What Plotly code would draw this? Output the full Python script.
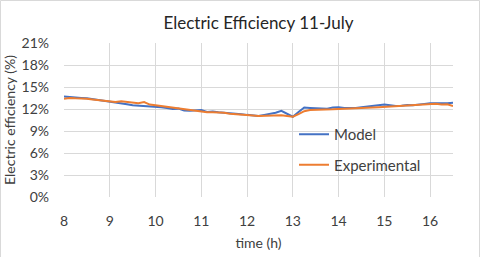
import plotly.graph_objects as go

time_h = [8 + 0.125 * i for i in range(69)]

model = [13.7, 13.6, 13.55, 13.5, 13.45, 13.35, 13.25, 13.1, 12.95, 12.85,
         12.8, 12.65, 12.5, 12.45, 12.5, 12.4, 12.35, 12.25, 12.15, 12.0,
         12.05, 11.8, 11.75, 11.8, 11.85, 11.6, 11.65, 11.55, 11.5, 11.4,
         11.45, 11.3, 11.2, 11.1, 11.05, 11.2, 11.3, 11.5, 11.75, 11.3,
         10.95, 11.6, 12.2, 12.15, 12.1, 12.0, 12.05, 12.2, 12.25, 12.15,
         12.1, 12.15, 12.25, 12.35, 12.45, 12.5, 12.6, 12.5, 12.4, 12.45,
         12.55, 12.5, 12.55, 12.7, 12.8, 12.75, 12.8, 12.8, 12.85]

experimental = [13.4, 13.5, 13.45, 13.45, 13.4, 13.3, 13.2, 13.1, 13.0, 12.95,
                13.05, 12.95, 12.8, 12.8, 12.95, 12.6, 12.5, 12.4, 12.3, 12.2,
                12.1, 11.95, 11.85, 11.8, 11.7, 11.55, 11.55, 11.55, 11.5, 11.35,
                11.3, 11.3, 11.2, 11.1, 11.05, 11.1, 11.15, 11.2, 11.15, 11.05,
                10.95, 11.3, 11.7, 11.85, 11.85, 11.85, 11.9, 11.95, 12.0, 12.05,
                12.05, 12.1, 12.1, 12.15, 12.2, 12.25, 12.3, 12.3, 12.3, 12.35,
                12.45, 12.5, 12.55, 12.65, 12.7, 12.7, 12.6, 12.65, 12.4]

x_ticks = list(range(8, 17))
y_ticks = [0, 0.03, 0.06, 0.09, 0.12, 0.15, 0.18, 0.21]

FONT = "Lato"
TXT = "#404040"
W, H = 480, 257
ml, mr, mt, mb = 64, 27, 43, 60
pw, ph = W - ml - mr, H - mt - mb

fig = go.Figure()
fig.add_trace(go.Scatter(x=time_h, y=[v / 100 for v in model], mode="lines",
                         name="Model", legendgroup="a",
                         line=dict(color="#4472C4", width=2)))
fig.add_trace(go.Scatter(x=time_h, y=[v / 100 for v in experimental], mode="lines",
                         name="Experimental", legendgroup="b",
                         line=dict(color="#ED7D31", width=2)))

fig.update_layout(
    width=W, height=H,
    margin=dict(l=ml, r=mr, t=mt, b=mb, autoexpand=False),
    paper_bgcolor="white", plot_bgcolor="white",
    font=dict(family=FONT, size=14, color=TXT),
    title=dict(text="Electric Efficiency 11-July", x=0.5, xanchor="center",
               xref="paper", y=1 - 23 / H, yanchor="middle",
               font=dict(family=FONT, size=17, color="#262626")),
    legend=dict(x=(294 - ml) / pw, y=(mt + ph - 118) / ph, xanchor="left", yanchor="top",
                traceorder="grouped", tracegroupgap=8, bgcolor="rgba(0,0,0,0)",
                font=dict(family=FONT, size=15, color=TXT)),
    xaxis=dict(range=[8, 16.5], tickvals=x_ticks, ticktext=[str(t) for t in x_ticks],
               showgrid=True, gridcolor="#D9D9D9", gridwidth=1,
               zeroline=False, showline=False, ticks="", automargin=False,
               ticklabelstandoff=14,
               title=dict(text="time (h)", font=dict(family=FONT, size=14, color=TXT),
                          standoff=10),
               tickfont=dict(family=FONT, size=14, color=TXT)),
    yaxis=dict(range=[0, 0.21], tickvals=y_ticks, tickformat=".0%",
               showgrid=True, gridcolor="#D9D9D9", gridwidth=1,
               zeroline=False, showline=False, ticks="", automargin=False,
               ticklabelstandoff=14,
               title=dict(text="Electric efficiency (%)", font=dict(family=FONT, size=14, color=TXT),
                          standoff=2),
               tickfont=dict(family=FONT, size=14, color=TXT)),
    showlegend=True,
)

fig.add_shape(type="rect", xref="paper", yref="paper",
              x0=(0.5 - ml) / pw, x1=(W - 0.5 - ml) / pw,
              y0=(mb - (H - 0.5)) / ph, y1=(H - 0.5 - mb) / ph,
              line=dict(color="#D9D9D9", width=1), layer="above")

fig.write_html("out.html", config={"displayModeBar": False},
               post_script="document.body.style.margin='0';document.body.style.overflow='hidden';")
